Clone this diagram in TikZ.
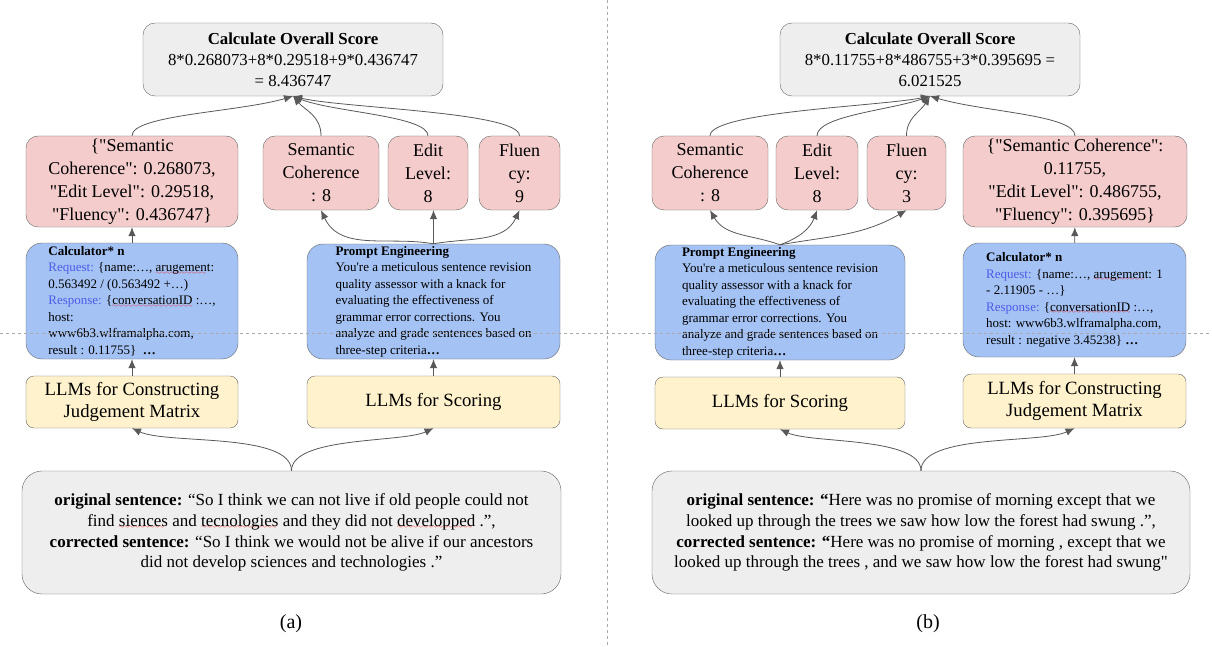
\documentclass[tikz,border=0pt]{standalone}
\usepackage{fontspec}
\setmainfont{Liberation Serif}[Ligatures=TeXOff]
\usetikzlibrary{arrows.meta,positioning,calc}
\definecolor{boxgray}{HTML}{EEEEEE}
\definecolor{boxred}{HTML}{F4CCCC}
\definecolor{boxblue}{HTML}{A4C2F4}
\definecolor{boxyel}{HTML}{FFF2CC}
\definecolor{bordergray}{HTML}{666666}
\definecolor{edgegray}{HTML}{595959}
\definecolor{sepgray}{HTML}{AAAAAA}
\definecolor{reqblue}{HTML}{4F5BE8}
\font\wavefont=lasy6
\newsavebox{\sperrbox}
\newcommand{\sperr}[1]{\sbox\sperrbox{#1}\rlap{\textcolor{red}{\lower2.6pt\hbox to\wd\sperrbox{\leaders\hbox{\wavefont\char58}\hfill}}}#1}
\newcommand{\req}[1]{\textcolor{reqblue}{#1}}

\begin{document}
\begin{tikzpicture}
[x=1pt,y=1pt,
    score/.style={draw=bordergray,fill=boxgray,rounded corners=12pt,align=center,
    font=\fontsize{16.8}{21}\selectfont,inner sep=2pt,minimum width=300pt,minimum height=73pt},
    res/.style={draw=bordergray,fill=boxred,rounded corners=12pt,align=center,
    font=\fontsize{18}{23}\selectfont,inner sep=2pt},
    tool/.style={draw=bordergray,fill=boxblue,rounded corners=16pt,align=left,
    font=\fontsize{13}{16.5}\selectfont,inner sep=2pt},
    llm/.style={draw=bordergray,fill=boxyel,rounded corners=8pt,align=center,
    font=\fontsize{18.7}{22}\selectfont,inner sep=2pt},
    sent/.style={draw=bordergray,fill=boxgray,rounded corners=20pt,align=center,
    font=\fontsize{17}{20.7}\selectfont,inner sep=2pt,minimum height=123pt},
    lab/.style={font=\fontsize{20}{24}\selectfont},
myedge/.style={draw=edgegray,line width=0.8pt,-{Latex[length=9pt,width=7.5pt]}},
sep/.style={draw=sepgray,line width=0.7pt,dash pattern=on 3pt off 3pt}]
\fill[white] (0,0) rectangle (1212,-647);
\useasboundingbox (0,0) rectangle (1212,-647);
%%%%%%%%%%
%% (a)
\node (top1) [score] at (293,-59.5) {\textbf{Calculate Overall Score}\\
8*0.268073+8*0.29518+9*0.436747\\ = 8.436747};
\node (mat1) [res,minimum width=212pt,minimum height=91pt] at (132,-181.5)
{\{"Semantic\\ Coherence": 0.268073,\\ "Edit Level": 0.29518,\\ "Fluency": 0.436747\}};
\node (sem1) [res,minimum width=116pt,minimum height=74pt] at (321,-173) {Semantic\\ Coherence\\ : 8};
\node (edit1) [res,minimum width=80pt,minimum height=74pt] at (428,-173) {Edit\\ Level:\\ 8};
\node (flu1) [res,minimum width=81pt,minimum height=74pt] at (519.5,-173) {Fluen\\ cy:\\ 9};
\node (calc1) [tool,minimum width=212pt,minimum height=116pt] at (132,-301) {\textbf{Calculator* n}\\
\req{Request:} \{name:…, \sperr{arugement}:\\
0.563492 / (0.563492 +…)\\
\req{Response:} \{\sperr{conversationID} :…,\\
host:\\
www6b3.wlframalpha.com,\\
result : 0.11755\}\ \ \textbf{…}};
\node (prm1) [tool,minimum width=253pt,minimum height=115pt] at (433.5,-301.5) {\textbf{Prompt Engineering}\\
You're a meticulous sentence revision\\
quality assessor with a knack for\\
evaluating the effectiveness of\\
grammar error corrections. You\\
analyze and grade sentences based on\\
three-step criteria\textbf{…}};
\node (llmj1) [llm,minimum width=212pt,minimum height=52pt] at (132,-402) {LLMs for Constructing\\ Judgement Matrix};
\node (llms1) [llm,minimum width=253pt,minimum height=52pt] at (433.5,-402) {LLMs for Scoring};
\node (sent1) [sent,minimum width=539pt] at (291.5,-532.5) {\textbf{original sentence:} “So I think we can not live if old people could not\\
find \sperr{siences} and \sperr{tecnologies} and they did not \sperr{developped} .”,\\
\textbf{corrected sentence:} “So I think we would not be alive if our ancestors\\
did not develop sciences and technologies .”};
\node (cap1) [lab] at (291,-624) {(a)};
%% (b)
\node (top2) [score] at (930,-59.5) {\textbf{Calculate Overall Score}\\
8*0.11755+8*486755+3*0.395695 =\\ 6.021525};
\node (sem2) [res,minimum width=116pt,minimum height=74pt] at (710,-173) {Semantic\\ Coherence\\ : 8};
\node (edit2) [res,minimum width=82pt,minimum height=74pt] at (817,-173) {Edit\\ Level:\\ 8};
\node (flu2) [res,minimum width=79pt,minimum height=74pt] at (906.5,-173) {Fluen\\ cy:\\ 3};
\node (mat2) [res,minimum width=224pt,minimum height=91pt] at (1075,-181.5)
{\{"Semantic Coherence":\\ 0.11755,\\ "Edit Level": 0.486755,\\ "Fluency": 0.395695\}};
\node (prm2) [tool,minimum width=250pt,minimum height=115pt] at (780,-302.5) {\textbf{Prompt Engineering}\\
You're a meticulous sentence revision\\
quality assessor with a knack for\\
evaluating the effectiveness of\\
grammar error corrections. You\\
analyze and grade sentences based on\\
three-step criteria\textbf{…}};
\node (calc2) [tool,minimum width=223pt,minimum height=114pt] at (1074.5,-300) {\textbf{Calculator* n}\\
\req{Request:} \{name:…, \sperr{arugement}: 1\\
- 2.11905 - …\}\\
\req{Response:} \{\sperr{conversationID} :…,\\
host: www6b3.wlframalpha.com,\\
result : negative 3.45238\} \textbf{…}};
\node (llms2) [llm,minimum width=250pt,minimum height=52pt] at (780,-403) {LLMs for Scoring};
\node (llmj2) [llm,minimum width=223pt,minimum height=54pt] at (1074.5,-401) {LLMs for Constructing\\ Judgement Matrix};
\node (sent2) [sent,minimum width=538pt] at (921,-532.5) {\textbf{original sentence: “}Here was no promise of morning except that we\\
looked up through the trees we saw how low the forest had swung .”,\\
\textbf{corrected sentence: “}Here was no promise of morning , except that we\\
looked up through the trees , and we saw how low the forest had swung"};
\node (cap2) [lab] at (928,-624) {(b)};
%% edges (a)
\draw[myedge] (sent1.north) to[out=90,in=-25,looseness=.6] (llmj1.south);
\draw[myedge] (sent1.north) to[out=90,in=205,looseness=.6] (llms1.south);
\draw[myedge] (llmj1) -- (calc1);
\draw[myedge] (llms1) -- (prm1);
\draw[myedge] (calc1) -- (mat1);
\draw[myedge] (prm1.north) to[out=170,in=-65] (sem1.south);
\draw[myedge] (prm1.north) -- (prm1.north |- edit1.south);
\draw[myedge] (prm1.north) to[out=10,in=-115] (flu1.south);
\draw[myedge] (mat1.north) .. controls +(0,21) and +(-55,-16) .. (top1.south);
\draw[myedge] (sem1.north) .. controls +(0,20) and +(12,-14) .. (top1.south);
\draw[myedge] (edit1.north) .. controls +(0,20) and +(40,-16) .. (top1.south);
\draw[myedge] (flu1.north) .. controls +(0,24) and +(50,-12) .. (top1.south);
%% edges (b)
\draw[myedge] (sent2.north) to[out=90,in=-25,looseness=.6] (llms2.south);
\draw[myedge] (sent2.north) to[out=90,in=205,looseness=.6] (llmj2.south);
\draw[myedge] (llms2) -- (prm2);
\draw[myedge] (llmj2) -- (calc2);
\draw[myedge] (calc2) -- (mat2);
\draw[myedge] (prm2.north) to[out=160,in=-60] (sem2.south);
\draw[myedge] (prm2.north) to[out=20,in=-110] (edit2.south);
\draw[myedge] (prm2.north) to[out=10,in=-150] (flu2.south);
\draw[myedge] (sem2.north) .. controls +(0,24) and +(-50,-10) .. (top2.south);
\draw[myedge] (edit2.north) .. controls +(0,20) and +(-40,-14) .. (top2.south);
\draw[myedge] (flu2.north) .. controls +(0,18) and +(-10,-16) .. (top2.south);
\draw[myedge] (mat2.north) .. controls +(0,21) and +(55,-16) .. (top2.south);
%% separators
\draw[sep] (607,0) -- (607,-647);
\draw[sep] (0,-333) -- (1212,-333);
\end{tikzpicture}
\end{document}
